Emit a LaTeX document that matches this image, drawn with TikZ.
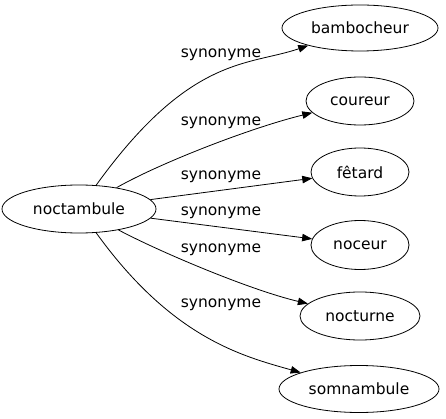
\documentclass[tikz,border=0pt]{standalone}
\usepackage{fontspec}
\setmainfont{DejaVu Sans}
\usetikzlibrary{shapes.geometric,arrows.meta}
\begin{document}
\begin{tikzpicture}[x=1pt,y=-1pt,
  word/.style={ellipse,draw,line width=0.8pt,inner sep=0pt,font=\fontsize{15.5}{18}\selectfont},
  lab/.style={inner sep=0pt,font=\fontsize{15.5}{18}\selectfont},
  rel/.style={line width=0.8pt,-{Triangle[length=10pt,width=7.5pt]}}]
\useasboundingbox (0,0) rectangle (446,419);
\node[word,minimum width=154pt,minimum height=48pt] (noct) at (79,209) {noctambule};
\node[word,minimum width=156pt,minimum height=46pt] (bamb) at (360,28) {bambocheur};
\node[word,minimum width=108pt,minimum height=48pt] (cour) at (360,101) {coureur};
\node[word,minimum width=98pt,minimum height=48pt] (fet) at (360,172) {fêtard};
\node[word,minimum width=98pt,minimum height=49pt] (noc) at (360,245) {noceur};
\node[word,minimum width=120pt,minimum height=48pt] (noctu) at (360,316) {nocturne};
\node[word,minimum width=160pt,minimum height=47pt] (somn) at (359,389) {somnambule};
\draw[rel] (noct) .. controls (190,55) and (248,66) .. (bamb);
\draw[rel] (noct) .. controls (160,163) and (250,128) .. (cour);
\draw[rel] (noct) -- (fet);
\draw[rel] (noct) -- (noc);
\draw[rel] (noct) .. controls (160,252) and (250,290) .. (noctu);
\draw[rel] (noct) .. controls (172,338) and (242,356) .. (somn);
\node[lab] (l1) at (221,55) {synonyme};
\node[lab] (l2) at (221,123) {synonyme};
\node[lab] (l3) at (221,177) {synonyme};
\node[lab] (l4) at (221,213) {synonyme};
\node[lab] (l5) at (221,250) {synonyme};
\node[lab] (l6) at (221,305) {synonyme};
\end{tikzpicture}
\end{document}
